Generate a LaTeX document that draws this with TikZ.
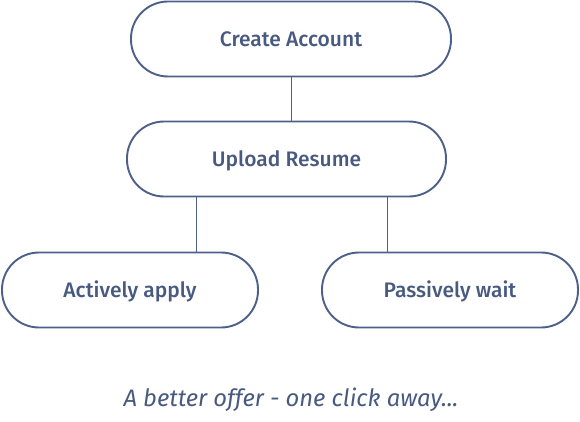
\documentclass[tikz,border=0pt]{standalone}
\usepackage{fontspec}
\setmainfont{Fira Sans}[BoldFont={Fira Sans Medium}]
\begin{document}
\begin{tikzpicture}[x=1pt,y=-1pt,
  pill/.style={draw=edgec, line width=1.9pt, fill=white, rounded corners=37pt,
    minimum height=75pt, text=textc, font=\bfseries\fontsize{21}{24}\selectfont,
    inner sep=0pt, text height=14.5pt, text depth=0pt},
  link/.style={draw=edgec, line width=1.7pt}]
\definecolor{edgec}{RGB}{76,96,136}
\definecolor{textc}{RGB}{72,90,128}
\useasboundingbox (0,0) rectangle (580,422);
\node[pill, minimum width=320pt] (create) at (291,39) {Create Account};
\node[pill, minimum width=319pt] (upload) at (286.5,159) {Upload Resume};
\node[pill, minimum width=256pt] (active) at (130,290) {Actively apply};
\node[pill, minimum width=256pt] (passive) at (450,290) {Passively wait};
\draw[link] (create.south -| 291.5,0) -- (upload.north -| 291.5,0);
\draw[link] (upload.south -| 196.5,0) -- (active.north -| 196.5,0);
\draw[link] (upload.south -| 387.5,0) -- (passive.north -| 387.5,0);
\node[text=textc, font=\itshape\fontsize{23.8}{26}\selectfont, inner sep=0pt] (tag) at (291,400) {A better offer - one click away...};
\end{tikzpicture}
\end{document}
